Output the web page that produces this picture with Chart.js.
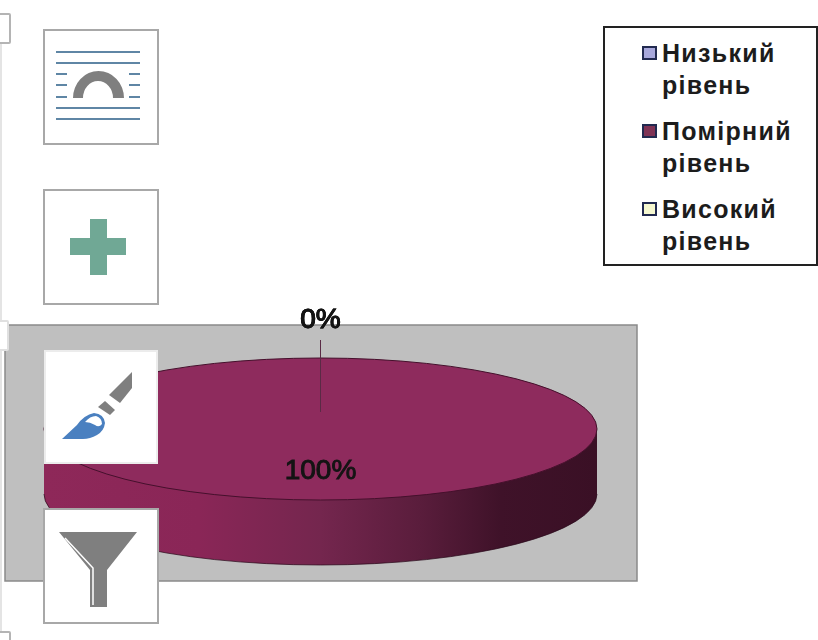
<!DOCTYPE html>
<html>
<head>
<meta charset="utf-8">
<script src="https://cdn.jsdelivr.net/npm/chart.js@4"></script>
<style>
    html, body { margin: 0; padding: 0; background: #fff; overflow: hidden; }
    #wrap { position: relative; width: 818px; height: 640px; overflow: hidden; filter: blur(0.6px); }
    #chart { position: absolute; left: 0; top: 0; }
    .tool { position: absolute; box-sizing: border-box; background: #fff; border: 2px solid #a8a8a8; }
    .tool svg { position: absolute; left: 0; top: 0; overflow: visible; }
    .handle { position: absolute; box-sizing: border-box; background: #fff; border: 2px solid #b4b4b4; border-radius: 2px; }
    #frame { position: absolute; left: 0; top: 43px; width: 2px; height: 597px; background: #e4e4e4; }
    #legend { position: absolute; left: 603px; top: 26px; width: 215px; height: 240px; box-sizing: border-box;
        border: 2px solid #222; background: #fff; font: bold 25px/32px "Liberation Sans", Arial, sans-serif; color: #1c1c1c; }
    .item { position: absolute; left: 57px; letter-spacing: 1.3px; }
    .swatch { position: absolute; left: -20px; top: 9px; width: 15px; height: 14px; box-sizing: border-box; border: 2px solid #222a50; }
</style>
</head>
<body>
<div id="wrap">
    <canvas id="chart" width="818" height="640"></canvas>
    <div id="frame"></div>
    <div class="handle" style="left:-4px;top:13px;width:15px;height:31px"></div>
    <div class="handle" style="left:-4px;top:320px;width:13px;height:31px;border-color:#e0e0e0"></div>
    <div class="handle" style="left:-4px;top:631px;width:15px;height:20px"></div>

    <div class="tool" style="left:43px;top:29px;width:116px;height:116px">
        <svg width="116" height="116" style="left:-45px;top:-31px">
            <g stroke="#5f86a5" stroke-width="2" fill="none">
                <path d="M56 52H140M56 63H140M56 108H140M56 119H140"/>
                <path d="M56 74H67M129 74H140M56 85H67M129 85H140M56 97H67M129 97H140"/>
            </g>
            <path d="M73 98A25.500 27 0 0 1 124 98H113A15 17 0 0 0 83 98Z" fill="#7f7f7f"/>
        </svg>
    </div>
    <div class="tool" style="left:43px;top:189px;width:116px;height:116px">
        <svg width="116" height="116" style="left:-45px;top:-191px">
            <path d="M90 219H107V238H126V255H107V275H90V255H70V238H90Z" fill="#70a895"/>
        </svg>
    </div>
    <div class="tool" style="left:44px;top:350px;width:114px;height:114px;border-color:#ececec">
        <svg width="114" height="114" style="left:-46px;top:-352px">
            <path d="M132 372V388L120 403L109 395Z" fill="#7f7f7f"/>
            <path d="M105 401L115 410L110 415L98 407Z" fill="#7f7f7f"/>
            <path d="M62 439L77 425Q84 415 94 413Q104 414 105 423Q104 431 97 435Q90 439 83 439Z" fill="#4a80c0"/>
            <path d="M85 422Q90 416 96 416Q102 418 102 424Q99 428 95 425Q90 422 85 422Z" fill="#fff"/>
        </svg>
    </div>
    <div class="tool" style="left:43px;top:508px;width:116px;height:116px">
        <svg width="116" height="116" style="left:-45px;top:-510px">
            <path d="M59 532H137L107 570V607H90V570Z" fill="#7f7f7f"/>
            <path d="M65 538L93 568V605" fill="none" stroke="#fff" stroke-width="1.500"/>
        </svg>
    </div>

    <div id="legend"></div>
</div>
<script>
// values
const categories = ['Низький рівень', 'Помірний рівень', 'Високий рівень'];
const shares = [0, 100, 0];
const sliceColors = ['#9999ff', '#8e2b5d', '#ffffcc'];
const swatchColors = ['#a8a8dc', '#7f3355', '#f6f8d0'];

// squashed 3d look
const pieCenterY = 429;
const pieSquash = 71 / 276.5;
const pieDepth = 65;

const topArc = chart => chart.getDatasetMeta(0).data[1];

const flatPie = {
    id: 'flatPie',
    beforeDraw(chart) {
        const ctx = chart.ctx;
        ctx.save();
        ctx.fillStyle = '#bfbfbf';
        ctx.fillRect(5, 325, 632, 256);
        ctx.strokeStyle = '#8a8a8a';
        ctx.lineWidth = 1.5;
        ctx.strokeRect(5, 325, 632, 256);
        ctx.restore();
    },
    beforeDatasetsDraw(chart) {
        const ctx = chart.ctx;
        const arc = topArc(chart);
        const rx = arc.outerRadius;
        const ry = rx * pieSquash;
        const grad = ctx.createLinearGradient(arc.x - rx, 0, arc.x + rx, 0);
        grad.addColorStop(0, '#8e2859');
        grad.addColorStop(0.28, '#8a2657');
        grad.addColorStop(0.5, '#74264e');
        grad.addColorStop(0.68, '#5a1d3c');
        grad.addColorStop(0.825, '#3f1229');
        grad.addColorStop(1, '#3a1025');
        // wall of the disc
        ctx.save();
        ctx.beginPath();
        ctx.ellipse(arc.x, pieCenterY + pieDepth, rx, ry, 0, 0, Math.PI);
        ctx.lineTo(arc.x - rx, pieCenterY);
        ctx.lineTo(arc.x + rx, pieCenterY);
        ctx.closePath();
        ctx.fillStyle = grad;
        ctx.fill();
        ctx.beginPath();
        ctx.ellipse(arc.x, pieCenterY + pieDepth, rx, ry, 0, 0, Math.PI);
        ctx.strokeStyle = 'rgba(40, 8, 25, 0.7)';
        ctx.lineWidth = 1;
        ctx.stroke();
        ctx.restore();
        // top face goes through the library, just flattened
        ctx.save();
        ctx.translate(0, pieCenterY);
        ctx.scale(1, pieSquash);
        ctx.translate(0, -arc.y);
    },
    afterDatasetsDraw(chart) {
        const ctx = chart.ctx;
        ctx.restore();
        const arc = topArc(chart);
        const rx = arc.outerRadius;
        const ry = rx * pieSquash;
        ctx.save();
        ctx.beginPath();
        ctx.ellipse(arc.x, pieCenterY, rx, ry, 0, 0, Math.PI * 2);
        ctx.strokeStyle = '#45102c';
        ctx.lineWidth = 1;
        ctx.stroke();
        // leader of the zero slices
        ctx.beginPath();
        ctx.moveTo(arc.x, pieCenterY - ry * 0.24);
        ctx.lineTo(arc.x, 340);
        ctx.strokeStyle = '#5a2a45';
        ctx.stroke();
        ctx.restore();
    },
    afterDraw(chart) {
        const ctx = chart.ctx;
        const arc = topArc(chart);
        const ry = arc.outerRadius * pieSquash;
        ctx.save();
        ctx.font = '28px "Liberation Sans", Arial, sans-serif';
        ctx.textAlign = 'center';
        ctx.textBaseline = 'middle';
        ctx.fillStyle = '#141414';
        ctx.strokeStyle = '#141414';
        ctx.lineWidth = 1;
        shares.forEach(v => {
            const y = v > 0 ? pieCenterY + ry * 0.6 : 320;
            ctx.fillText(v + '%', arc.x, y);
            ctx.strokeText(v + '%', arc.x, y);
        });
        ctx.restore();
    }
};

new Chart(document.getElementById('chart').getContext('2d'), {
    type: 'pie',
    data: {
        labels: categories,
        datasets: [{
            data: shares,
            backgroundColor: sliceColors,
            borderWidth: 0
        }]
    },
    options: {
        responsive: false,
        animation: false,
        layout: { padding: { left: 44, right: 221, top: 43, bottom: 44 } },
        plugins: {
            legend: { display: false },
            tooltip: { enabled: false }
        }
    },
    plugins: [flatPie]
});

// legend box, two lines per entry like in the sheet
const legendBox = document.getElementById('legend');
categories.forEach((name, i) => {
    const item = document.createElement('div');
    item.className = 'item';
    item.style.top = (9 + i * 78) + 'px';
    const swatch = document.createElement('span');
    swatch.className = 'swatch';
    swatch.style.background = swatchColors[i];
    item.appendChild(swatch);
    name.split(' ').forEach((word, j) => {
        if (j > 0) item.appendChild(document.createElement('br'));
        item.appendChild(document.createTextNode(word));
    });
    legendBox.appendChild(item);
});
</script>
</body>
</html>
